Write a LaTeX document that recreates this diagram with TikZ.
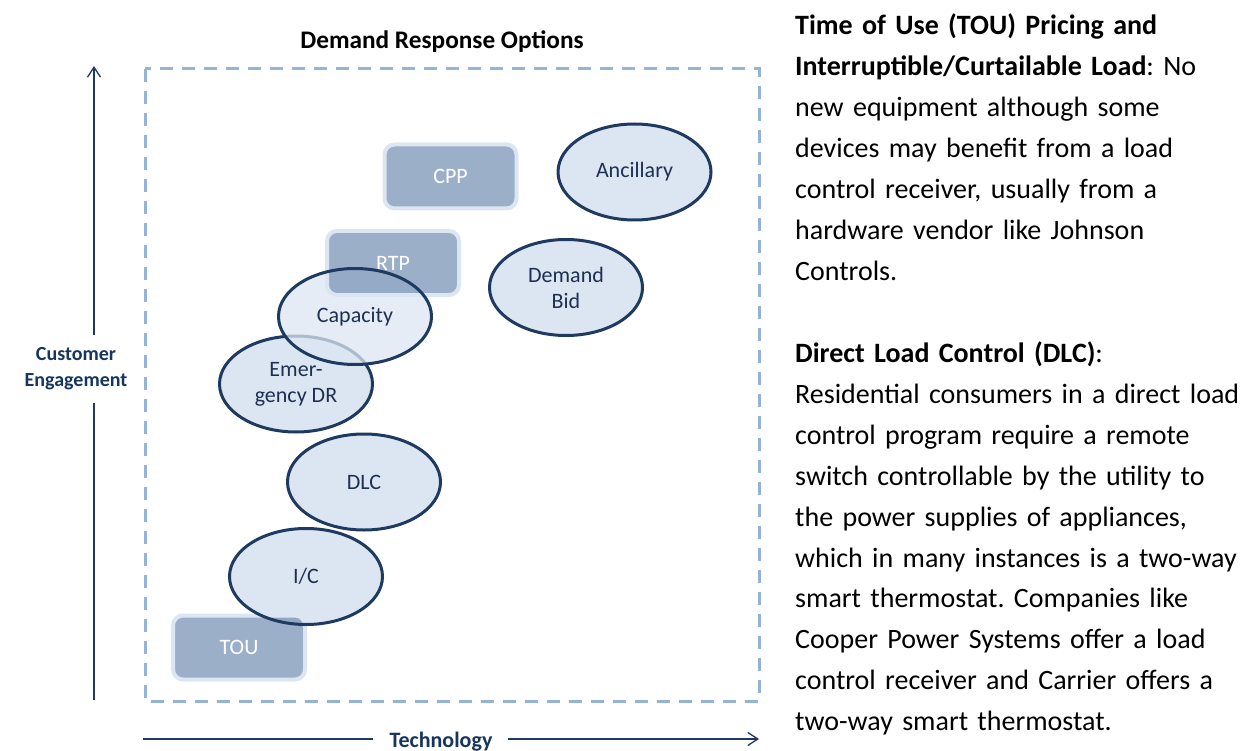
\documentclass[tikz,border=0pt]{standalone}
\usepackage{fontspec}
\setmainfont{Carlito}
\usetikzlibrary{shapes.geometric,arrows.meta}

\definecolor{optborder}{HTML}{1F3A60}
\definecolor{optfill}{HTML}{DCE6F2}
\definecolor{optlabel}{HTML}{1E2F50}
\definecolor{boxbase}{HTML}{7A94B7}
\definecolor{boxrim}{HTML}{DCE6F2}
\definecolor{frameblue}{HTML}{95B3D7}
\definecolor{axisnavy}{HTML}{1F3864}
\definecolor{axislabel}{HTML}{17365D}

\begin{document}
\frenchspacing
\begin{tikzpicture}[x=1pt,y=-1pt,
  optfillonly/.style={ellipse, fill=optfill, minimum width=153pt, minimum height=96pt, inner sep=0pt},
  optring/.style={ellipse, draw=optborder, line width=3pt, minimum width=153pt, minimum height=96pt,
    inner sep=0pt, text=optlabel, font=\fontsize{22}{26}\selectfont, align=center},
  option/.style={optring, fill=optfill},
  pricebox/.style={rectangle, rounded corners=10pt, draw=boxrim, line width=4pt, fill=boxbase,
    fill opacity=0.75, draw opacity=1, text opacity=1, text=white, minimum width=132pt,
    minimum height=64pt, font=\fontsize{22}{26}\selectfont},
  axisline/.style={draw=axisnavy, line width=1.3pt},
  axistext/.style={font=\bfseries\fontsize{20}{26}\selectfont, text=axislabel, align=center, inner sep=0pt},
  bodytext/.style={anchor=base west, inner sep=0pt, text width=470pt, align=left,
    font=\fontsize{28}{40.9}\selectfont, text=black}
]
\useasboundingbox (0,0) rectangle (1249,751);

% title
\node[font=\bfseries\fontsize{25.3}{28}\selectfont] (title) at (442,42) {Demand Response Options};

% dashed frame around the options
\draw[frameblue, line width=3pt, dash pattern=on 13pt off 9pt] (145,69) rectangle (759,701);

% pricing and program options
\node[pricebox] (cpp) at (450.5,176.5) {CPP};
\node[option] (anc) at (634.5,172) {Ancillary};
\node[option] (bid) at (566,287.5) {Demand\\Bid};
\node[option] (edr) at (296,384) {Emer-\\gency DR};
\node[optfillonly, fill opacity=0.75] (capfill) at (355,316.5) {};
\node[pricebox] (rtp) at (393,263) {RTP};
\node[optring] (cap) at (355,316.5) {Capacity};
\node[option] (dlc) at (364,482) {DLC};
\node[optfillonly] (icfill) at (306,576.5) {};
\node[pricebox] (tou) at (239,647.5) {TOU};
\node[optring] (ic) at (306,576.5) {I/C};

% vertical axis
\node[axistext] (eng) at (76,369) {Customer\\Engagement};
\coordinate (vbot) at (94,700);
\coordinate (vlow) at (94,403);
\coordinate (vhigh) at (94,335);
\coordinate (vtop) at (94,66);
\draw[axisline] (vbot) -- (vlow);
\draw[axisline, -{Straight Barb[length=10pt,width=13pt]}] (vhigh) -- (vtop);

% horizontal axis
\node[axistext, font=\bfseries\fontsize{22}{26}\selectfont] (tech) at (441,741.5) {Technology};
\coordinate (hleft) at (143,739);
\coordinate (hgapl) at (373,739);
\coordinate (hgapr) at (508,739);
\coordinate (hright) at (759,739);
\draw[axisline] (hleft) -- (hgapl);
\draw[axisline, -{Straight Barb[length=10pt,width=13pt]}] (hgapr) -- (hright);

% explanatory text
\node[bodytext] (toutext) at (795,35) {%
\textbf{Time of Use (TOU) Pricing and}\\
\textbf{Interruptible/Curtailable Load}: No\\
new equipment although some\\
devices may benefit from a load\\
control receiver, usually from a\\
hardware vendor like Johnson\\
Controls.};
\node[bodytext] (dlctext) at (795,362.5) {%
\textbf{Direct Load Control (DLC)}:\\
Residential consumers in a direct load\\
control program require a remote\\
switch controllable by the utility to\\
the power supplies of appliances,\\
which in many instances is a two-way\\
smart thermostat. Companies like\\
Cooper Power Systems offer a load\\
control receiver and Carrier offers a\\
two-way smart thermostat.};
\end{tikzpicture}
\end{document}
